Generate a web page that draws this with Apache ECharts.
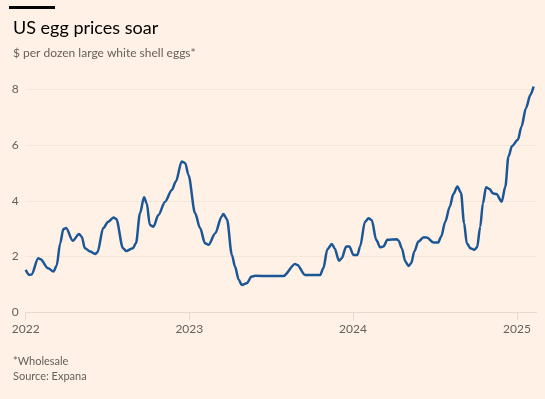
<!DOCTYPE html>
<html>
<head>
<meta charset="utf-8">
<style>
  html, body { margin: 0; padding: 0; background: #fff1e5; }
  #chart { width: 545px; height: 399px; }
</style>
<script src="https://cdn.jsdelivr.net/npm/echarts@6/dist/echarts.min.js"></script>
</head>
<body>
<div id="chart"></div>
<script>
// Wholesale price, $ per dozen large white shell eggs
const dates = [
  '2022-01-01', '2022-01-09', '2022-01-14', '2022-01-29', '2022-02-03', '2022-02-20',
  '2022-03-04', '2022-03-11', '2022-03-19', '2022-03-26', '2022-04-01', '2022-04-16',
  '2022-04-30', '2022-05-06', '2022-05-13', '2022-05-25', '2022-06-05', '2022-06-10',
  '2022-06-23', '2022-07-04', '2022-07-16', '2022-07-22', '2022-08-06', '2022-08-13',
  '2022-08-28', '2022-09-04', '2022-09-13', '2022-09-22', '2022-09-28', '2022-10-05',
  '2022-10-13', '2022-10-24', '2022-11-08', '2022-11-23', '2022-12-02', '2022-12-15',
  '2022-12-23', '2022-12-30', '2023-01-14', '2023-01-25', '2023-02-05', '2023-02-13',
  '2023-02-28', '2023-03-14', '2023-03-18', '2023-03-26', '2023-04-06', '2023-04-13',
  '2023-04-21', '2023-04-28', '2023-05-09', '2023-05-20', '2023-05-28', '2023-06-28',
  '2023-07-30', '2023-08-25', '2023-08-30', '2023-09-16', '2023-10-01', '2023-10-20',
  '2023-10-27', '2023-11-05', '2023-11-15', '2023-11-21', '2023-12-01', '2023-12-07',
  '2023-12-17', '2023-12-24', '2024-01-02', '2024-01-11', '2024-01-17', '2024-01-28',
  '2024-02-05', '2024-02-12', '2024-02-22', '2024-03-02', '2024-03-09', '2024-03-18',
  '2024-04-08', '2024-04-12', '2024-04-19', '2024-04-27', '2024-05-04', '2024-05-10',
  '2024-05-17', '2024-05-26', '2024-06-07', '2024-06-14', '2024-06-29', '2024-07-09',
  '2024-07-16', '2024-07-25', '2024-08-04', '2024-08-12', '2024-08-21', '2024-08-29',
  '2024-09-05', '2024-09-11', '2024-09-19', '2024-09-28', '2024-10-04', '2024-10-11',
  '2024-10-17', '2024-10-24', '2024-11-01', '2024-11-08', '2024-11-16', '2024-11-28',
  '2024-12-06', '2024-12-13', '2024-12-21', '2025-01-03', '2025-01-11', '2025-01-21',
  '2025-01-31', '2025-02-07'
];
const prices = [
  1.52, 1.34, 1.36, 1.94, 1.90, 1.58,
  1.46, 1.67, 2.48, 2.99, 3.02, 2.57,
  2.81, 2.71, 2.30, 2.18, 2.09, 2.15,
  3.02, 3.25, 3.40, 3.35, 2.30, 2.20,
  2.30, 2.48, 3.55, 4.13, 3.91, 3.13,
  3.07, 3.49, 3.97, 4.39, 4.69, 5.41,
  5.35, 4.93, 3.55, 3.02, 2.48, 2.42,
  2.84, 3.43, 3.53, 3.34, 2.06, 1.64,
  1.18, 0.98, 1.04, 1.28, 1.31, 1.30,
  1.30, 1.73, 1.70, 1.34, 1.34, 1.34,
  1.58, 2.26, 2.45, 2.30, 1.85, 1.94,
  2.36, 2.36, 2.06, 2.06, 2.36, 3.25,
  3.37, 3.31, 2.60, 2.33, 2.36, 2.60,
  2.62, 2.57, 2.30, 1.82, 1.66, 1.76,
  2.18, 2.54, 2.69, 2.68, 2.50, 2.50,
  2.72, 3.25, 3.79, 4.24, 4.51, 4.29,
  3.20, 2.48, 2.30, 2.24, 2.33, 3.07,
  3.91, 4.49, 4.42, 4.27, 4.24, 3.97,
  4.51, 5.59, 5.97, 6.19, 6.66, 7.32,
  7.80, 8.10
];
const yTicks = [0, 2, 4, 6, 8];

const FONT = 'Lato, "Noto Sans", sans-serif';
const GREY = '#66605c';

const chart = echarts.init(document.getElementById('chart'), null, { renderer: 'canvas' });

chart.setOption({
  backgroundColor: '#fff1e5',
  animation: false,
  textStyle: { fontFamily: FONT },
  title: [
    {
      text: 'US egg prices soar',
      left: 8, top: 14,
      textStyle: { fontSize: 18, fontWeight: 'normal', color: '#000', fontFamily: FONT }
    },
    {
      text: '$ per dozen large white shell eggs*',
      left: 8, top: 42,
      textStyle: { fontSize: 12, fontWeight: 'normal', color: GREY, fontFamily: FONT }
    },
    {
      text: '*Wholesale\nSource: Expana',
      left: 8, top: 349,
      textStyle: { fontSize: 11, fontWeight: 'normal', color: GREY, lineHeight: 15, fontFamily: FONT }
    }
  ],
  graphic: [
    { type: 'rect', left: 9, top: 6, shape: { width: 46, height: 3 }, style: { fill: '#000' } }
  ],
  grid: { left: 25.7, right: 8.3, top: 89.3, bottom: 399 - 312.3 },
  xAxis: {
    type: 'time',
    min: '2022-01-01',
    max: '2025-02-14',
    minInterval: 365 * 24 * 3600 * 1000,
    maxInterval: 366 * 24 * 3600 * 1000,
    axisLine: { show: true, lineStyle: { color: '#e6d9ce', width: 1 } },
    axisTick: { show: true, length: 8, lineStyle: { color: '#e6d9ce' } },
    axisLabel: {
      color: GREY, fontSize: 12, margin: 11, fontFamily: FONT,
      formatter: '{yyyy}', showMaxLabel: false
    },
    splitLine: { show: false }
  },
  yAxis: {
    type: 'value',
    min: yTicks[0],
    max: yTicks[yTicks.length - 1],
    interval: 2,
    axisLine: { show: false },
    axisTick: { show: false },
    axisLabel: { color: GREY, fontSize: 12, margin: 7, fontFamily: FONT },
    splitLine: { lineStyle: { color: '#f5e6da', width: 1 } }
  },
  series: [{
    type: 'line',
    data: dates.map((d, i) => [d, prices[i]]),
    showSymbol: false,
    clip: false,
    smooth: 0.3,
    smoothMonotone: 'x',
    lineStyle: { color: '#1b5796', width: 2.5 }
  }]
});
</script>
</body>
</html>
